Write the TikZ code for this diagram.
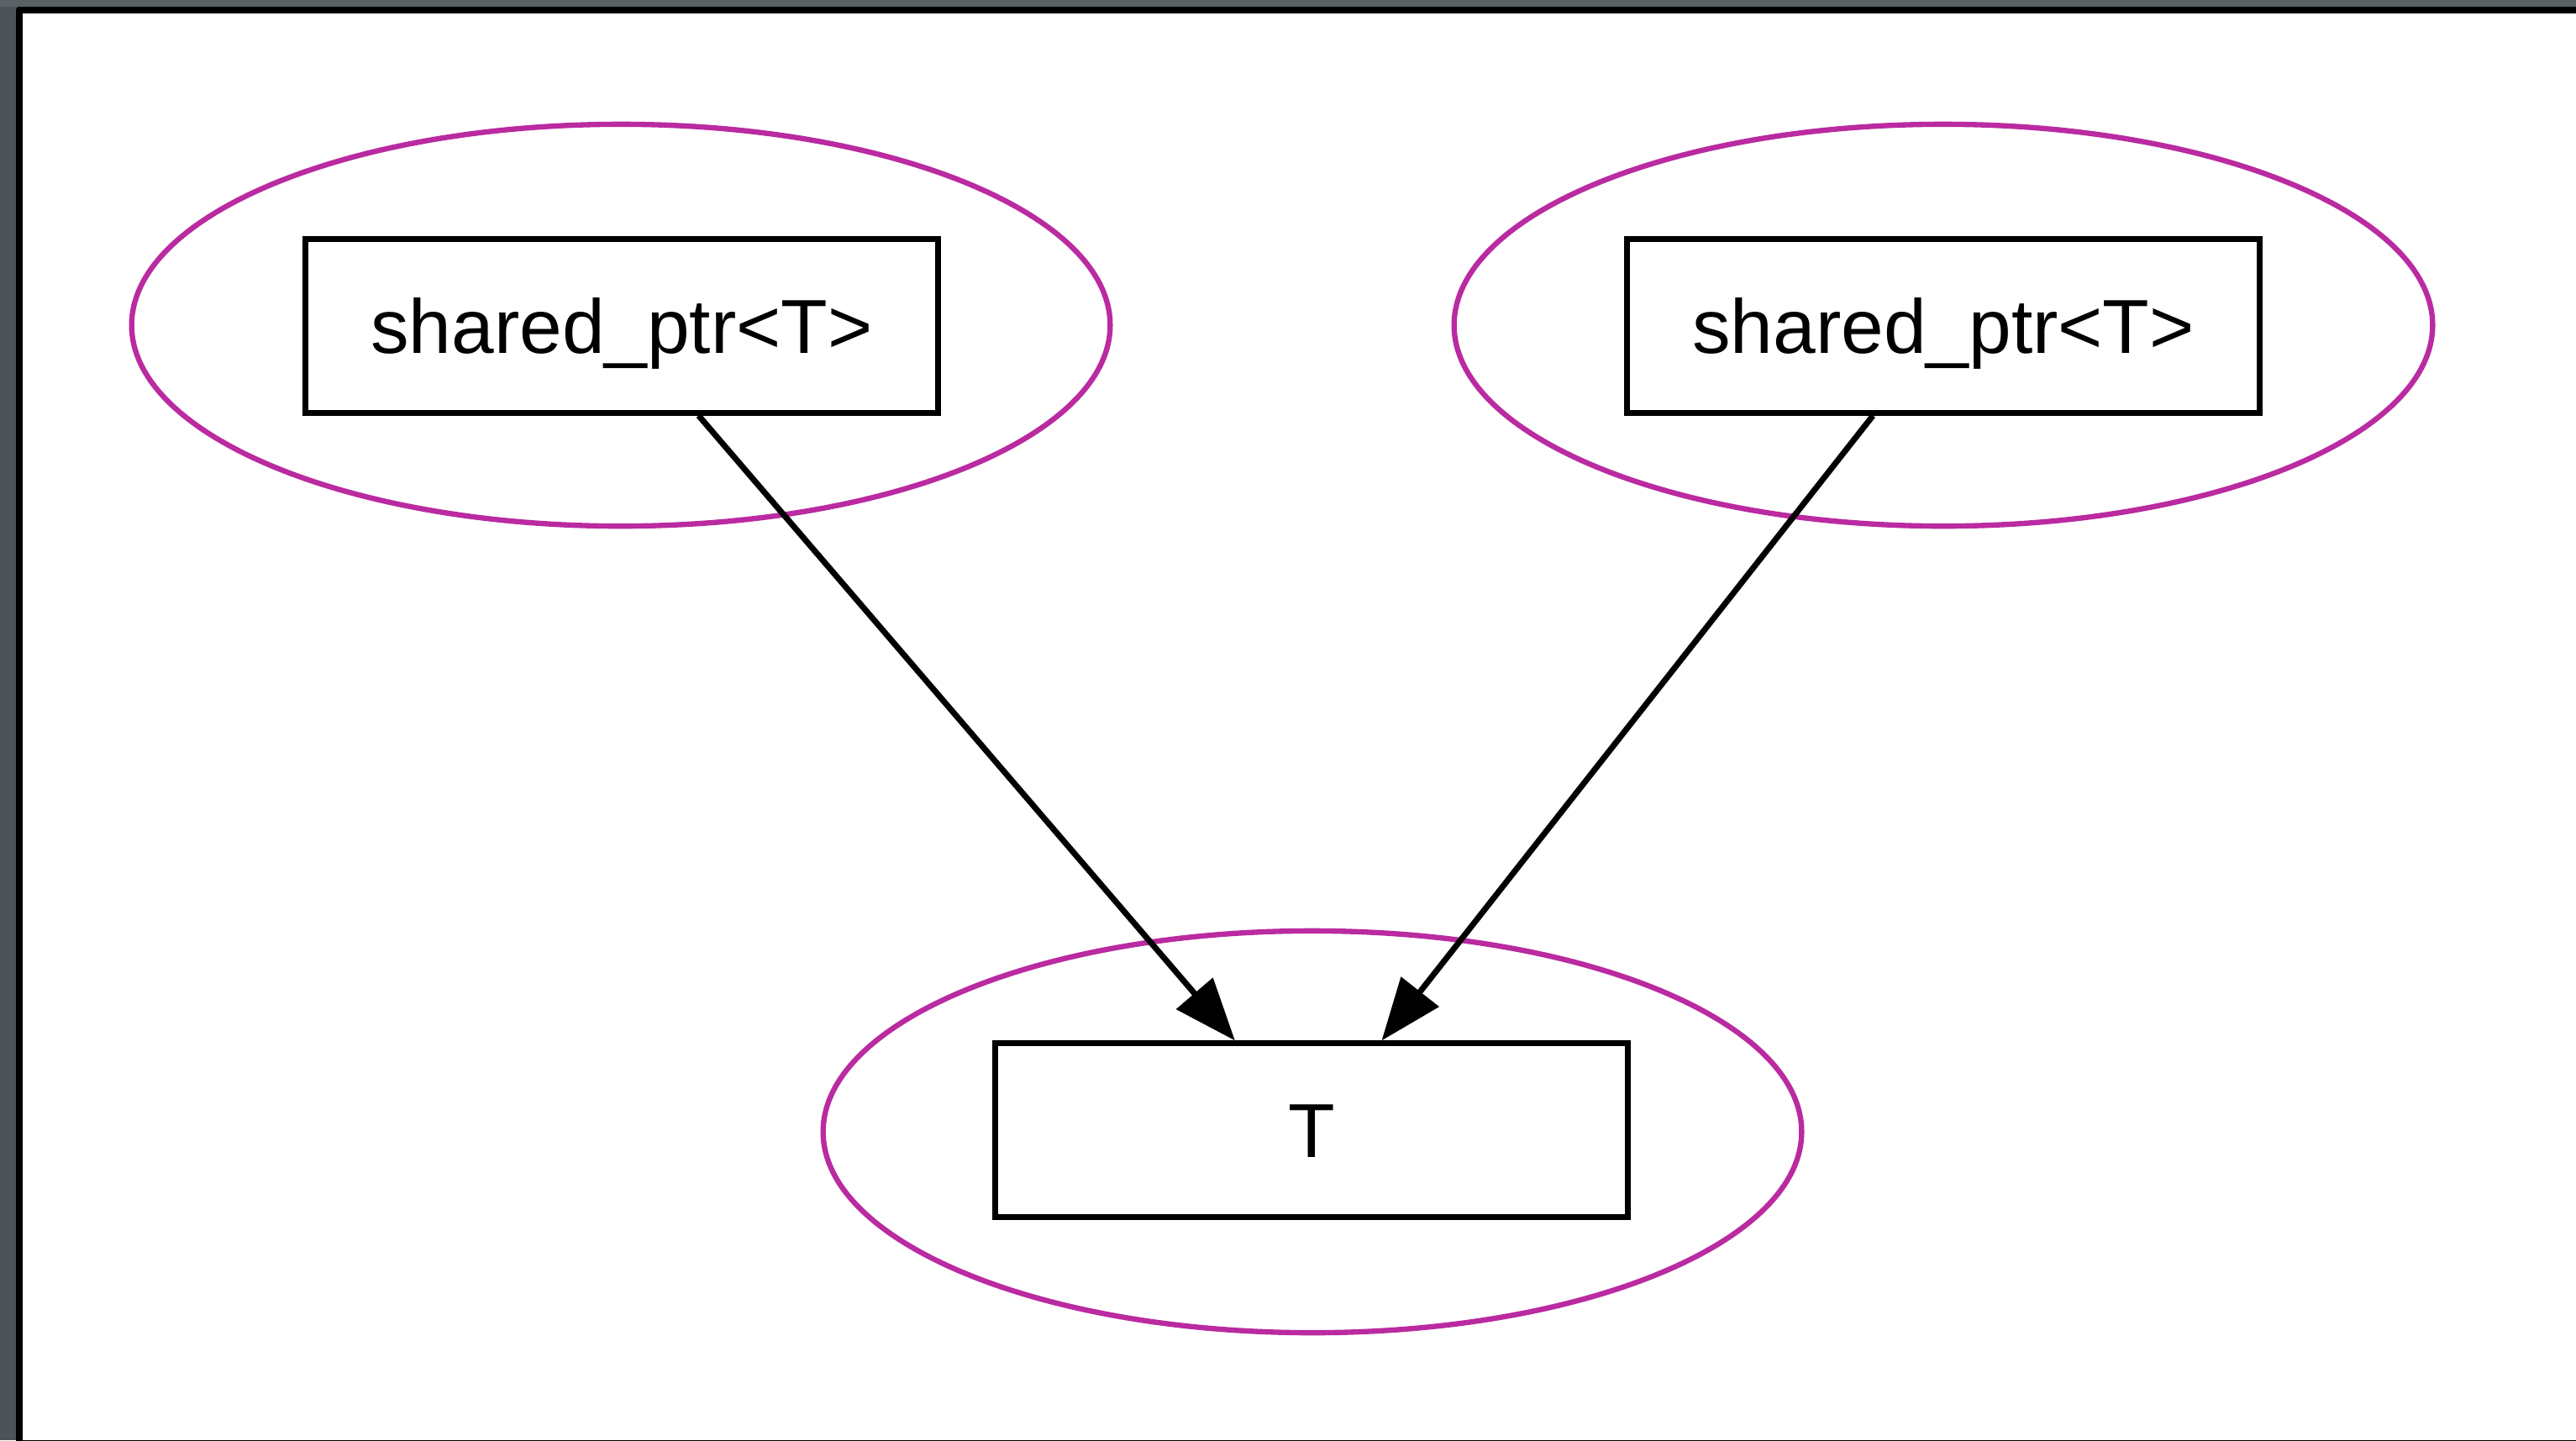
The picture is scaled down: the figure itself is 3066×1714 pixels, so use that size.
\documentclass[tikz,border=0pt]{standalone}
\usepackage{fontspec}
\setmainfont{Liberation Sans}
\usepackage{tikz}
\usetikzlibrary{shapes.geometric}
\usetikzlibrary{arrows.meta}
\definecolor{clustermag}{RGB}{186,42,160}
\definecolor{framegrey}{RGB}{76,84,88}
\definecolor{frametop}{RGB}{90,98,102}
\tikzset{cluster/.style={ellipse,draw=clustermag,line width=1.8pt,minimum width=11.64cm,minimum height=4.78cm},
objbox/.style={draw,line width=2pt,fill=white,minimum width=7.53cm,minimum height=2.06cm,text height=18.5pt,text depth=0pt,font=\fontsize{25.9}{30}\selectfont},
ref/.style={line width=2pt,-{Triangle[length=0.74cm,width=0.56cm]}}}

\begin{document}
\begin{tikzpicture}[x=0.01cm,y=-0.01cm]
\useasboundingbox (0,0) rectangle (3066,1714);
\fill[framegrey] (0,0) rectangle (3066,1714);
\fill[frametop] (0,0) rectangle (3066,8);
\fill[black,rounded corners=1pt] (19,8) rectangle (3120,1760);
\fill[white] (27,16) rectangle (3066,1714);

\node (c1) at (739,387) [cluster] {};
\node (c2) at (2313,387) [cluster] {};
\node (c3) at (1562,1347) [cluster] {};

\node (sp1) at (740,388) [objbox] {shared\_ptr<T>};
\node (sp2) at (2313,388) [objbox] {shared\_ptr<T>};
\node (t) at (1561,1345) [objbox] {T};

\draw [ref] (sp1) -- (t);
\draw [ref] (sp2) -- (t);
\end{tikzpicture}
\end{document}
